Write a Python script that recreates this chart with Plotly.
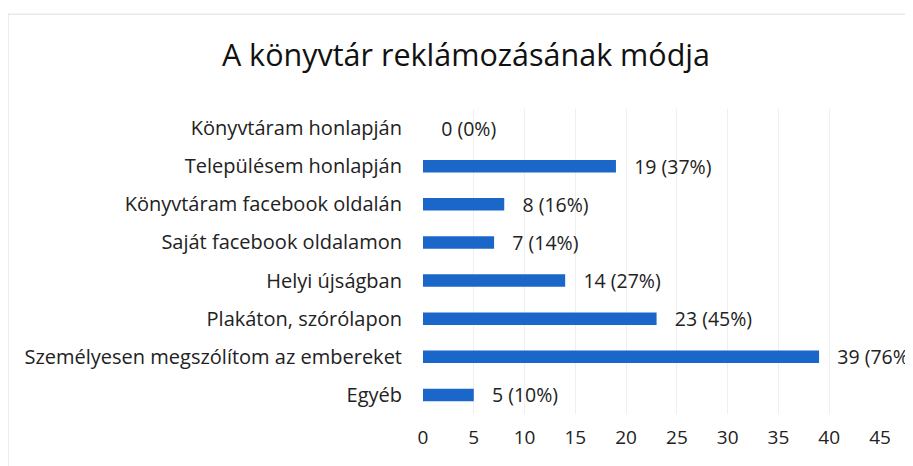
import plotly.graph_objects as go

categories = ["Könyvtáram honlapján", "Településem honlapján", "Könyvtáram facebook oldalán",
              "Saját facebook oldalamon", "Helyi újságban", "Plakáton, szórólapon",
              "Személyesen megszólítom az embereket", "Egyéb"]
values = [0, 19, 8, 7, 14, 23, 39, 5]
percents = ["0%", "37%", "16%", "14%", "27%", "45%", "76%", "10%"]
labels = ["\u00a0\u00a0\u00a0" + f"{v} ({p})" for v, p in zip(values, percents)]
x_ticks = [0, 5, 10, 15, 20, 25, 30, 35, 40, 45]

FONT = "Open Sans"

fig = go.Figure(go.Bar(
    y=categories, x=values, orientation="h",
    marker=dict(color="#1b67c9", line=dict(width=0)),
    width=0.33,
    text=labels, textposition="outside", cliponaxis=False, constraintext="none",
    textfont=dict(family=FONT, size=19.5, color="#222222"),
))

fig.update_layout(
    width=913, height=466,
    margin=dict(l=415, r=41, t=101, b=60),
    paper_bgcolor="white", plot_bgcolor="white",
    title=dict(text="A könyvtár reklámozásának módja", x=0.5016, xanchor="center",
               y=0.899, yanchor="middle",
               font=dict(family=FONT, size=30.5, color="#111111")),
    showlegend=False,
    xaxis=dict(range=[0, 45], tickvals=x_ticks, showgrid=True, gridcolor="#efefef",
               gridwidth=1, zeroline=False, showline=False,
               tickfont=dict(family=FONT, size=19, color="#222222"), ticks="",
               ticklabelstandoff=10),
    yaxis=dict(autorange="reversed", showgrid=False, zeroline=False, ticks="",
               tickfont=dict(family=FONT, size=20, color="#222222"),
               ticklabelstandoff=20),
    shapes=[dict(type="rect", xref="paper", yref="paper", x0=-0.908, x1=1.1,
                 y0=-0.2, y1=1.311, line=dict(color="#dddddd", width=1), layer="below")],
)

fig.write_html("out.html")
